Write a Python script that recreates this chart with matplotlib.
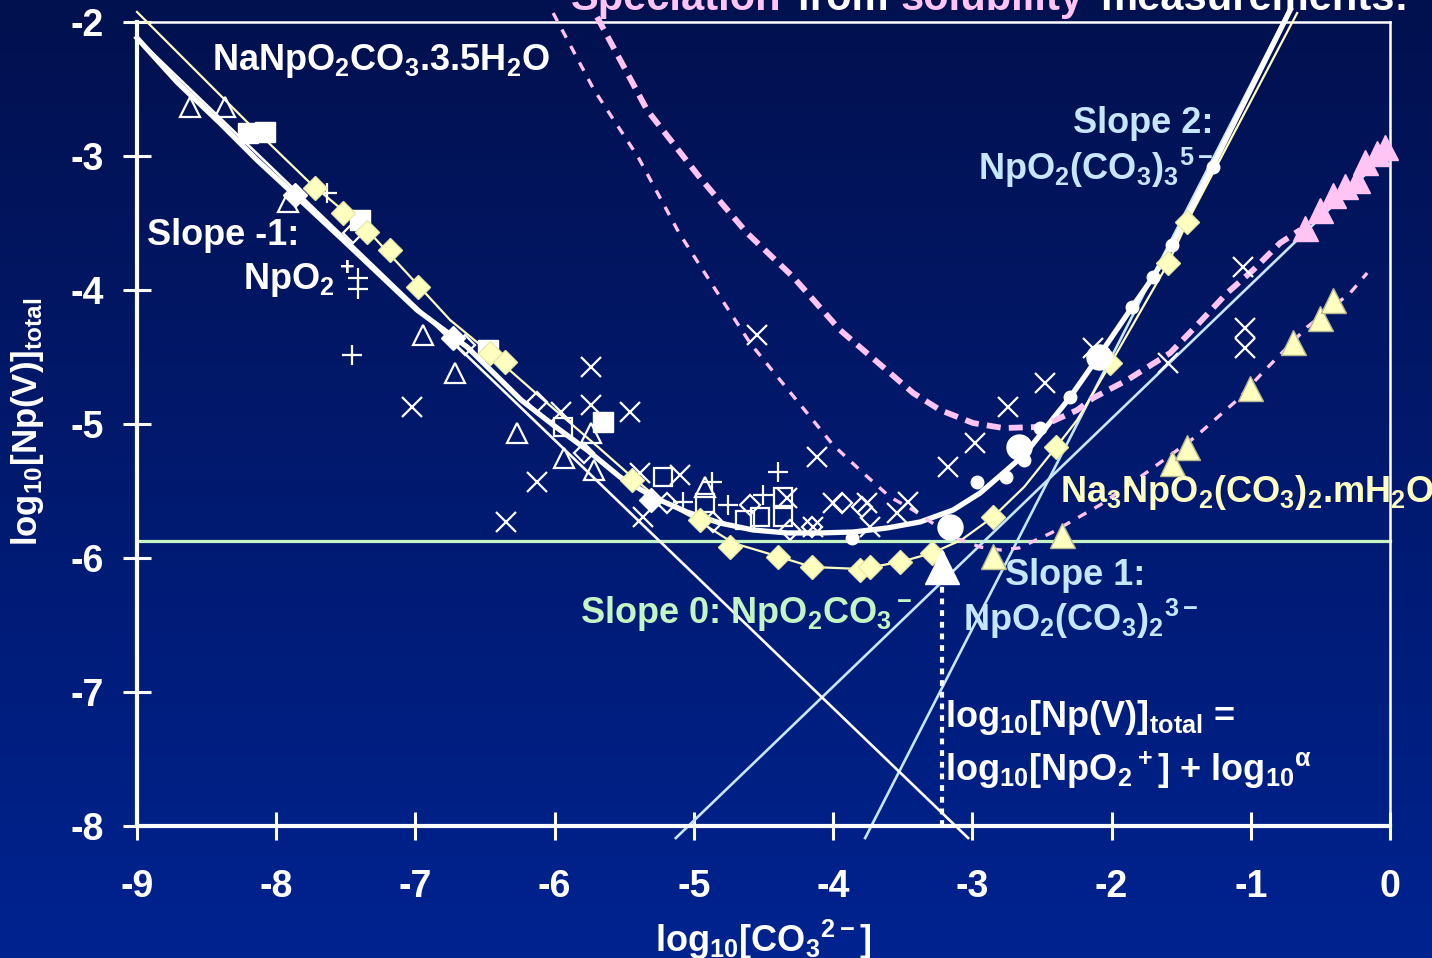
import numpy as np
import matplotlib
matplotlib.use('Agg')
import matplotlib.pyplot as plt

FONT = 'Liberation Sans'
plt.rcParams['font.family'] = [FONT, 'DejaVu Sans']
plt.rcParams['font.weight'] = 'bold'
plt.rcParams['mathtext.fontset'] = 'custom'
for k in ['rm', 'it', 'bf', 'sf']:
    plt.rcParams['mathtext.' + k] = FONT + ':bold'
plt.rcParams['axes.unicode_minus'] = False

WHITE = '#ffffff'
BLUE = '#c6e6fb'
YELLOW = '#ffffc0'
GREEN = '#c4f6c4'
PINK = '#ffc4f4'

# ---------------- data (log10[CO3 2-], log10[Np(V)]total) ----------------
x_ticks = list(range(-9, 1))
y_ticks = list(range(-8, -1))

# model curve (thick white)
white_curve_x = [-9.0, -8.713, -8.404, -8.138, -7.851, -7.52, -6.989, -6.629, -6.241, -6.011,
                 -5.767, -5.53, -5.293, -5.049, -4.812, -4.575, -4.33, -4.093, -3.856, -3.612,
                 -3.375, -3.138, -2.944, -2.628, -2.297, -2.096, -1.852, -1.701, -1.565, -1.27,
                 -0.76, -0.717]
white_curve_y = [-2.119, -2.448, -2.754, -3.03, -3.306, -3.627, -4.149, -4.425, -4.821, -5.007,
                 -5.194, -5.396, -5.545, -5.657, -5.739, -5.791, -5.813, -5.813, -5.806, -5.776,
                 -5.731, -5.642, -5.515, -5.231, -4.799, -4.5, -4.127, -3.903, -3.664, -3.067,
                 -2.0, -1.91]

# model curve (thin yellow) through NaNpO2CO3 data
yellow_curve_x = [-9.0, -8.224, -7.757, -7.326, -6.751, -6.464, -6.055, -5.688, -5.444, -5.243,
                  -4.977, -4.718, -4.381, -4.151, -3.806, -3.519, -3.289, -3.08, -2.851, -2.628,
                  -2.398, -2.247, -2.017, -1.593, -1.457, -0.667]
yellow_curve_y = [-1.925, -2.731, -3.201, -3.575, -4.224, -4.47, -4.843, -5.172, -5.396, -5.567,
                  -5.716, -5.888, -5.993, -6.067, -6.082, -6.03, -5.963, -5.866, -5.694, -5.47,
                  -5.172, -4.97, -4.567, -3.799, -3.493, -1.933]

# asymptotes
slope_m1_x = [-9.0, -3.03]
slope_m1_y = [-2.12, -8.09]
slope_0_x = [-9.0, 0.0]
slope_0_y = [-5.873, -5.873]
slope_1_x = [-5.13, 0.0]
slope_1_y = [-8.09, -2.96]
slope_2_x = [-3.77, -0.72]
slope_2_y = [-8.09, -1.90]

# pink dashed curves
pink_thick_x = [-5.695, -5.336, -4.955, -4.618, -4.287, -3.95, -3.641, -3.425, -3.231, -2.994,
                -2.779, -2.513, -2.247, -2.132, -1.888, -1.579, -1.385, -1.17, -0.983, -0.789,
                -0.645]
pink_thick_y = [-1.963, -2.657, -3.164, -3.575, -3.903, -4.299, -4.575, -4.769, -4.896, -4.993,
                -5.03, -5.022, -4.896, -4.806, -4.672, -4.47, -4.261, -4.022, -3.851, -3.649,
                -3.552]
pink_thin_x = [-6.011, -5.717, -5.401, -5.106, -4.797, -4.596, -4.381, -4.187, -4.0, -3.784,
               -3.591, -3.425, -3.138, -2.944, -2.8, -2.664, -2.434, -2.082, -1.723, -1.399,
               -1.098, -0.911, -0.595, -0.286, -0.164]
pink_thin_y = [-1.933, -2.507, -3.007, -3.575, -4.075, -4.396, -4.672, -4.918, -5.157, -5.366,
               -5.545, -5.642, -5.843, -5.918, -5.94, -5.925, -5.813, -5.604, -5.343, -5.097,
               -4.821, -4.612, -4.276, -4.022, -3.873]

# markers
ydiam_x = [-7.721, -7.52, -7.348, -7.182, -6.981, -6.464, -6.356, -5.444, -4.955, -4.74,
           -4.395, -4.151, -3.806, -3.734, -3.519, -3.289, -2.851, -2.398, -2.01, -1.593, -1.457]
ydiam_y = [-3.239, -3.425, -3.567, -3.701, -3.978, -4.47, -4.537, -5.418, -5.716, -5.918,
           -5.993, -6.067, -6.09, -6.067, -6.03, -5.963, -5.694, -5.172, -4.545, -3.799, -3.493]

ytri_x = [-2.851, -2.355, -1.565, -1.457, -1.004, -0.695, -0.501, -0.408]
ytri_y = [-5.985, -5.828, -5.291, -5.172, -4.731, -4.388, -4.209, -4.075]

ptri_x = [-0.609, -0.501, -0.408, -0.322, -0.236, -0.178, -0.092, -0.034]
ptri_y = [-3.537, -3.403, -3.291, -3.224, -3.179, -3.045, -2.978, -2.933]

otri_x = [-8.619, -8.368, -7.915, -6.945, -6.716, -6.27, -5.932, -5.739, -5.717, -4.92]
otri_y = [-2.634, -2.634, -3.343, -4.336, -4.619, -5.067, -5.254, -5.067, -5.343, -5.47]

fsq_x = [-8.203, -8.08, -7.398, -6.478, -5.652]
fsq_y = [-2.828, -2.821, -3.478, -4.448, -4.985]

osq_x = [-5.94, -5.221, -4.92, -4.632, -4.524, -4.359, -4.359]
osq_y = [-5.022, -5.396, -5.59, -5.716, -5.694, -5.545, -5.694]

odiam_x = [-7.448, -6.644, -6.126, -5.789, -5.193, -4.862, -4.596, -4.309, -4.151, -3.935, -3.792]
odiam_y = [-3.575, -4.41, -4.836, -5.216, -5.59, -5.731, -5.604, -5.791, -5.769, -5.59, -5.619]

fdiam_x = [-7.865, -6.73, -5.307]
fdiam_y = [-3.291, -4.358, -5.567]

cross_x = [-7.024, -6.349, -6.126, -5.954, -5.739, -5.739, -5.458, -5.386, -5.365, -5.099,
           -4.546, -4.33, -4.144, -4.115, -4.0, -3.756, -3.734, -3.54, -3.461, -3.174,
           -2.98, -2.743, -2.477, -2.132, -1.593, -1.055, -1.04, -1.04]
cross_y = [-4.873, -5.731, -5.433, -4.91, -4.575, -4.858, -4.91, -5.366, -5.694, -5.381,
           -4.336, -5.552, -5.769, -5.246, -5.59, -5.59, -5.769, -5.664, -5.582, -5.321,
           -5.142, -4.873, -4.694, -4.433, -4.545, -3.828, -4.284, -4.433]

plus_x = [-7.635, -7.455, -7.412, -7.412, -5.078, -4.869, -4.754, -4.503, -4.395]
plus_y = [-3.276, -4.485, -3.91, -3.993, -5.582, -5.433, -5.604, -5.53, -5.358]

scirc_x = [-3.864, -2.966, -2.757, -2.628, -2.513, -2.297, -1.852, -1.701, -1.565, -1.27]
scirc_y = [-5.851, -5.433, -5.396, -5.269, -5.03, -4.799, -4.127, -3.903, -3.664, -3.082]

bcirc_x = [-2.664, -3.159, -2.089]
bcirc_y = [-5.172, -5.769, -4.5]

alpha_x = [-3.217]
alpha_y = [-6.067]
alpha_line_x = [-3.217, -3.217]
alpha_line_y = [-8.0, -6.1]

# ---------------- figure ----------------
fig = plt.figure(figsize=(14.32, 9.58), dpi=100)

bg = fig.add_axes([0, 0, 1, 1], zorder=-10)
top = np.array([0x02, 0x10, 0x4e]) / 255.0
bot = np.array([0x00, 0x23, 0x90]) / 255.0
t = np.linspace(0, 1, 256)[:, None]
grad = top[None, :] * (1 - t) + bot[None, :] * t
bg.imshow(grad[:, None, :], aspect='auto', extent=[0, 1, 0, 1])
bg.axis('off')

ax = fig.add_axes([137 / 1432, 1 - 826 / 958, (1390 - 137) / 1432, (826 - 22) / 958])
ax.set_facecolor('none')
ax.set_xlim(-9, 0)
ax.set_ylim(-8, -2)

for s in ['left', 'bottom']:
    ax.spines[s].set_color(WHITE)
    ax.spines[s].set_linewidth(3)
for s in ['top', 'right']:
    ax.spines[s].set_color(WHITE)
    ax.spines[s].set_linewidth(1.8)

ax.set_xticks(x_ticks)
ax.set_yticks(y_ticks)
ax.tick_params(direction='inout', length=19.5, width=2.2, colors=WHITE, labelsize=27)
ax.tick_params(axis='x', pad=21)
ax.tick_params(axis='y', pad=14)

# lines
ax.plot(slope_0_x, slope_0_y, color=GREEN, lw=2.3, zorder=2, clip_on=False)
ax.plot(slope_1_x, slope_1_y, color=BLUE, lw=1.9, zorder=2, clip_on=False)
ax.plot(slope_2_x, slope_2_y, color=BLUE, lw=1.9, zorder=2, clip_on=False)
ax.plot(slope_m1_x, slope_m1_y, color=WHITE, lw=1.9, zorder=2, clip_on=False)
ax.plot(yellow_curve_x, yellow_curve_y, color=YELLOW, lw=1.6, zorder=3, clip_on=False)
ax.plot(white_curve_x, white_curve_y, color=WHITE, lw=3.8, zorder=3, clip_on=False,
        solid_joinstyle='round')
ax.plot(pink_thick_x, pink_thick_y, color=PINK, lw=4.2, zorder=3, clip_on=False,
        dashes=(2.4, 1.4))
ax.plot(pink_thin_x, pink_thin_y, color=PINK, lw=2.4, zorder=3, clip_on=False,
        dashes=(2.8, 2.8))
ax.plot(alpha_line_x, alpha_line_y, color=WHITE, lw=3, zorder=3, dashes=(1.4, 1.4))

# markers
ax.plot(otri_x, otri_y, ls='none', marker='^', ms=14, mfc='none', mec=WHITE, mew=1.6, zorder=4)
ax.plot(osq_x, osq_y, ls='none', marker='s', ms=13, mfc='none', mec=WHITE, mew=1.6, zorder=4)
ax.plot(odiam_x, odiam_y, ls='none', marker='D', ms=10, mfc='none', mec=WHITE, mew=1.6, zorder=4)
ax.plot(cross_x, cross_y, ls='none', marker='x', ms=14, mec=WHITE, mew=1.6, zorder=4)
ax.plot(plus_x, plus_y, ls='none', marker='+', ms=15, mec=WHITE, mew=1.6, zorder=4)
ax.plot(fsq_x, fsq_y, ls='none', marker='s', ms=15, mfc=WHITE, mec=WHITE, zorder=5)
ax.plot(fdiam_x, fdiam_y, ls='none', marker='D', ms=12, mfc=WHITE, mec=WHITE, zorder=5)
ax.plot(ydiam_x, ydiam_y, ls='none', marker='D', ms=12, mfc=YELLOW, mec='#e8e8a8', mew=1, zorder=5)
ax.plot(ytri_x, ytri_y, ls='none', marker='^', ms=18, mfc=YELLOW, mec='#b8b890', mew=1, zorder=5)
ax.plot(ptri_x, ptri_y, ls='none', marker='^', ms=18, mfc=PINK, mec=PINK, mew=1, zorder=5,
        clip_on=False)
ax.plot(scirc_x, scirc_y, ls='none', marker='o', ms=9, mfc=WHITE, mec=WHITE, zorder=5)
ax.plot(bcirc_x, bcirc_y, ls='none', marker='o', ms=18, mfc=WHITE, mec=WHITE, zorder=5)
ax.plot(alpha_x, alpha_y, ls='none', marker='^', ms=25, mfc=WHITE, mec=WHITE, zorder=5)

# annotations
TS = 26
def label(x, y, s, color, ha='left'):
    ax.text(x, y, s, color=color, fontsize=TS, fontweight='bold', ha=ha, va='baseline',
            zorder=6, clip_on=False)

label(-8.461, -2.358, r'NaNpO$_2$CO$_3$.3.5H$_2$O', WHITE)
label(-8.928, -3.664, 'Slope -1:', WHITE)
label(-8.239, -4.0, r'NpO$_2{}^+$', WHITE)
label(-1.270, -2.828, 'Slope 2:', BLUE, ha='right')
label(-2.958, -3.179, r'NpO$_2$(CO$_3$)$_3{}^{5-}$', BLUE)
label(-2.369, -5.582, r'Na$_3$NpO$_2$(CO$_3$)$_2$.mH$_2$O', YELLOW)
label(-2.764, -6.201, 'Slope 1:', BLUE)
label(-3.066, -6.545, r'NpO$_2$(CO$_3$)$_2{}^{3-}$', BLUE)
label(-5.818, -6.485, r'Slope 0: NpO$_2$CO$_3{}^-$', GREEN)
label(-3.195, -7.261, r'log$_{10}$[Np(V)]$_{\rm total}$ =', WHITE)
label(-3.195, -7.664, r'log$_{10}$[NpO$_2{}^+$] + log$_{10}{}^{\alpha}$', WHITE)

# axis labels
fig.text(763 / 1432, 1 - 952 / 958, r'log$_{10}$[CO$_3{}^{2-}$]', color=WHITE, fontsize=TS,
         fontweight='bold', ha='center', va='baseline')
fig.text(28 / 1432, 1 - 422 / 958, r'log$_{10}$[Np(V)]$_{\rm total}$', color=WHITE, fontsize=25,
         fontweight='bold', ha='center', va='center', rotation=90)

# title (cut off at the top of the slide)
TT = 30
ty = 1 - 10 / 958
fig.text(571 / 1432, ty, 'Speciation', color=PINK, fontsize=TT, fontweight='bold', va='baseline')
fig.text(796 / 1432, ty, 'from', color=WHITE, fontsize=TT, fontweight='bold', va='baseline')
fig.text(901 / 1432, ty, 'solubility', color=PINK, fontsize=TT, fontweight='bold', va='baseline')
fig.text(1100 / 1432, ty, 'measurements:', color=WHITE, fontsize=TT, fontweight='bold', va='baseline')

fig.savefig('out.png', dpi=100)
